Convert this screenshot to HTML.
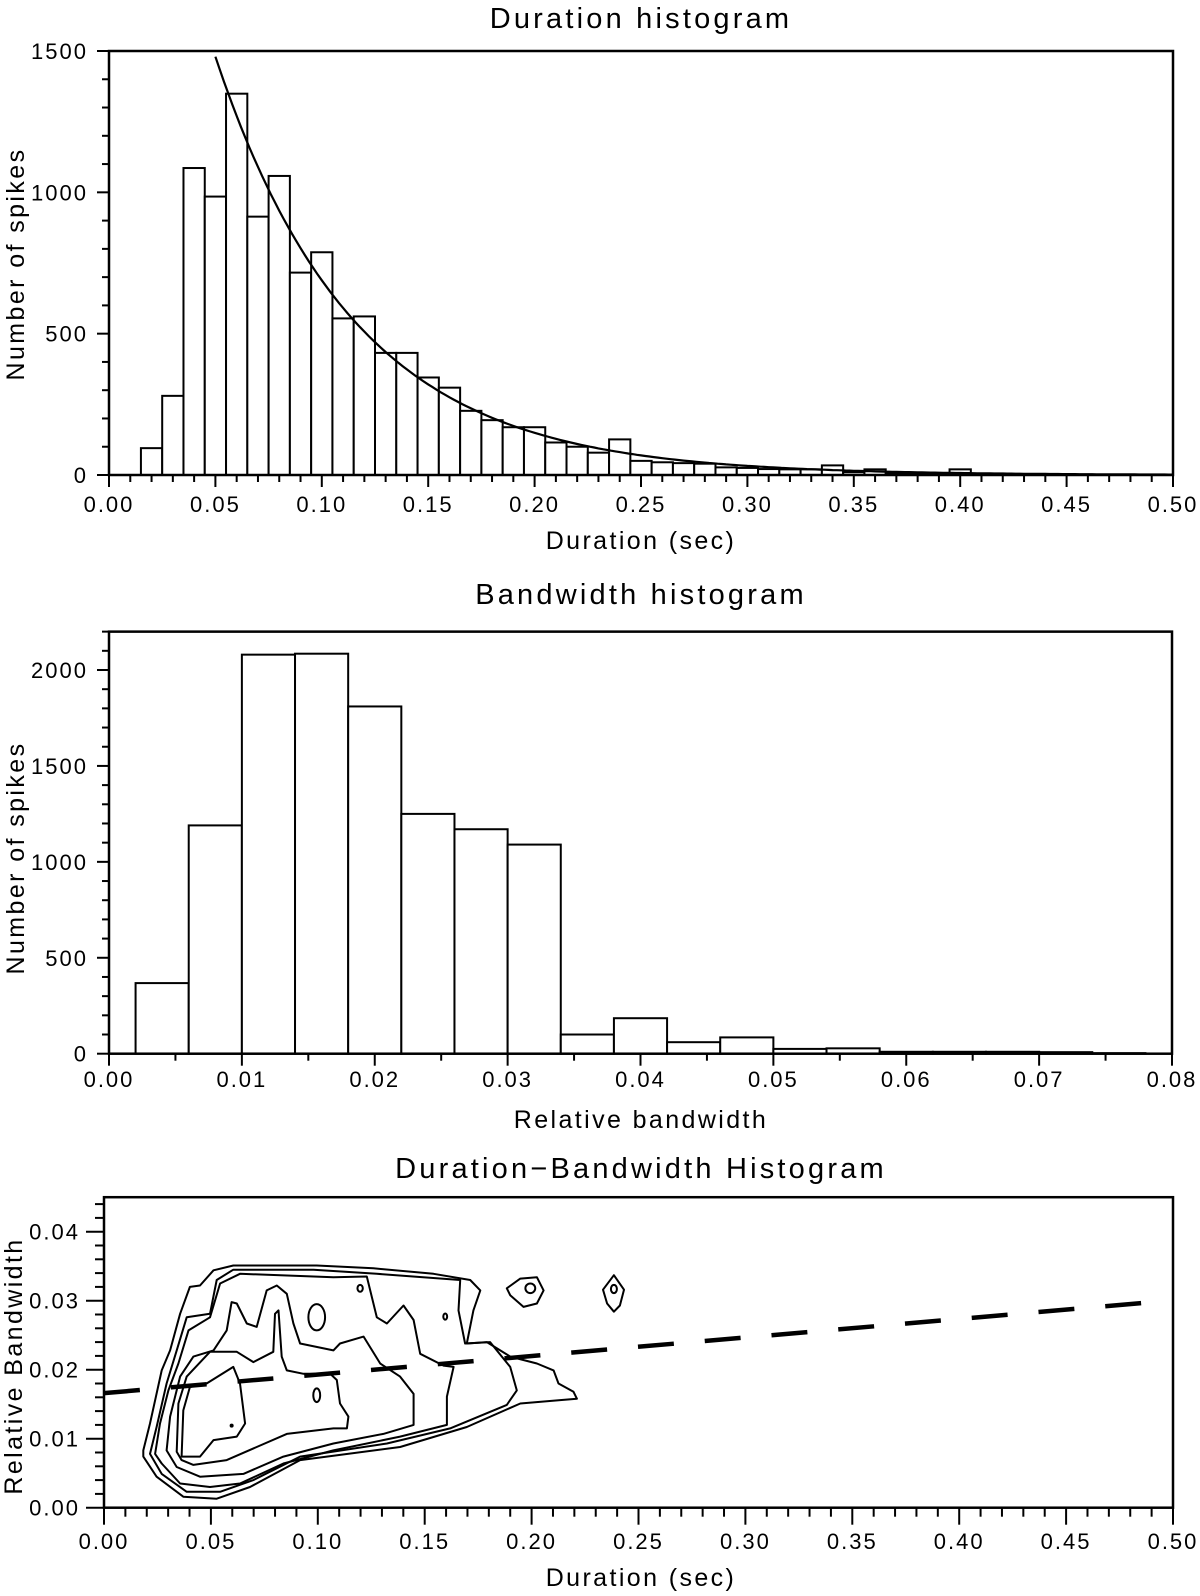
<!DOCTYPE html>
<html><head><meta charset="utf-8"><style>
html,body{margin:0;padding:0;background:#fff;}
svg{display:block;font-family:"Liberation Sans",sans-serif;}
</style></head><body>
<svg id="fig" width="1200" height="1596" viewBox="0 0 1200 1596" xmlns="http://www.w3.org/2000/svg"></svg>
<script>
// ---- Duration histogram data ----
const durBinStart = 0.015;
const durBinWidth = 0.01;
const durCounts = [95,280,1086,985,1349,914,1058,716,788,554,561,432,432,345,309,227,194,169,169,115,100,79,126,50,45,42,40,27,25,21,20,20,34,10,20,6,4,4,20,3,2,2,1,1,1,1,1,0];
const durFit = [1480, 15.3]; // value at 0.05, decay rate
const durXTicks = ["0.00","0.05","0.10","0.15","0.20","0.25","0.30","0.35","0.40","0.45","0.50"];
const durYTicks = ["0","500","1000","1500"];
// ---- Bandwidth histogram data ----
const bwBinStart = 0.002;
const bwBinWidth = 0.004;
const bwCounts = [368,1190,2080,2085,1810,1250,1170,1090,100,185,60,85,25,28,10,10,10,8,3];
const bwXTicks = ["0.00","0.01","0.02","0.03","0.04","0.05","0.06","0.07","0.08"];
const bwYTicks = ["0","500","1000","1500","2000"];
// ---- Duration-bandwidth contours ([duration, bandwidth]) ----
const contour1 = [[.0184,.0083],[.0215,.0122],[.0270,.0199],[.0309,.0228],[.0356,.0281],[.0402,.0320],[.0449,.0322],[.0512,.0344],[.0605,.0351],[.0995,.0351],[.1260,.0347],[.1541,.0339],[.1713,.0330],[.1760,.0315],[.1728,.0286],[.1697,.0238],[.1791,.0240],[.1900,.0219],[.2025,.0209],[.2103,.0199],[.2126,.0180],[.2196,.0168],[.2212,.0158],[.2134,.0156],[.1947,.0151],[.1697,.0117],[.1385,.0088],[.0917,.0069],[.0683,.0030],[.0527,.0013],[.0371,.0016],[.0246,.0045],[.0184,.0074]];
const contour2 = [[.0215,.0078],[.0246,.0117],[.0293,.0180],[.0340,.0228],[.0387,.0276],[.0496,.0281],[.0527,.0330],[.0605,.0345],[.0980,.0345],[.1276,.0339],[.1666,.0330],[.1658,.0286],[.1689,.0238],[.1806,.0240],[.1900,.0204],[.1931,.0170],[.1884,.0149],[.1619,.0115],[.1323,.0093],[.0917,.0074],[.0699,.0040],[.0543,.0023],[.0387,.0023],[.0270,.0049]];
const contour3 = [[.0239,.0078],[.0262,.0122],[.0301,.0170],[.0348,.0209],[.0395,.0257],[.0496,.0276],[.0543,.0325],[.0636,.0339],[.1073,.0334],[.1229,.0335],[.1276,.0276],[.1323,.0267],[.1401,.0293],[.1448,.0272],[.1479,.0223],[.1588,.0206],[.1635,.0204],[.1604,.0161],[.1604,.0120],[.1385,.0103],[.1073,.0083],[.0839,.0064],[.0636,.0035],[.0496,.0030],[.0356,.0035],[.0270,.0064]];
const contour4 = [[.0293,.0083],[.0309,.0132],[.0356,.0190],[.0418,.0219],[.0512,.0228],[.0574,.0257],[.0597,.0298],[.0621,.0296],[.0668,.0267],[.0714,.0262],[.0761,.0315],[.0808,.0322],[.0855,.0310],[.0886,.0267],[.0917,.0238],[.1073,.0228],[.1104,.0238],[.1214,.0248],[.1292,.0209],[.1385,.0190],[.1448,.0165],[.1448,.0120],[.1307,.0107],[.1073,.0093],[.0839,.0074],[.0652,.0049],[.0449,.0045],[.0340,.0059]];
const contour5 = [[.0340,.0081],[.0348,.0151],[.0387,.0190],[.0496,.0226],[.0621,.0226],[.0699,.0211],[.0792,.0226],[.0800,.0281],[.0816,.0286],[.0831,.0219],[.0855,.0199],[.0933,.0194],[.1058,.0194],[.1089,.0185],[.1104,.0151],[.1143,.0132],[.1136,.0115],[.1073,.0115],[.0855,.0107],[.0714,.0088],[.0574,.0069],[.0418,.0062],[.0363,.0069]];
const contour6 = [[.0363,.0074],[.0371,.0141],[.0402,.0175],[.0480,.0180],[.0605,.0204],[.0636,.0180],[.0660,.0122],[.0621,.0103],[.0512,.0098],[.0449,.0074]];
const contour7 = [[.1884,.0318],[.1947,.0332],[.2025,.0334],[.2056,.0315],[.2025,.0296],[.1962,.0291],[.1900,.0308]];
const contour8 = [[.2385,.0337],[.2432,.0316],[.2413,.0293],[.2385,.0284],[.2353,.0296],[.2334,.0316]];
// small closed loops: [duration, bandwidth, rx, ry]
const loops = [[.0995,.0276,.0039,.0019],[.0995,.0163,.0016,.0010],[.1198,.0318,.00125,.0005],[.1596,.0277,.0009,.00045],[.1994,.0318,.0023,.0007],[.2385,.0317,.0014,.0006]];
const peakDot = [.0597,.0119];
const trendLine = [[0,.0166],[.487,.0297]];
const cXTicks = ["0.00","0.05","0.10","0.15","0.20","0.25","0.30","0.35","0.40","0.45","0.50"];
const cYTicks = ["0.00","0.01","0.02","0.03","0.04"];

const NS="http://www.w3.org/2000/svg";
const svg=document.getElementById('fig');
function mk(tag,attrs,parent){const e=document.createElementNS(NS,tag);for(const k in attrs)e.setAttribute(k,attrs[k]);(parent||svg).appendChild(e);return e;}
function txt(s,x,y,size,anchor,parent,rot,ls){const t=mk('text',{x:x,y:y,'font-size':size,'text-anchor':anchor||'middle',fill:'#000','letter-spacing':ls||0},parent);if(rot)t.setAttribute('transform','rotate(-90 '+x+' '+y+')');t.textContent=s;return t;}

function lin(d0,d1,p0,p1){return v=>p0+(v-d0)/(d1-d0)*(p1-p0);}
const TS=22, TLS=2, AS=25, ALS=2.4, HS=29, HLS=3.2;

// ================= Plot 1 =================
(function(){
const g=mk('g',{});


const X=lin(0,0.5,109,1173), Y=lin(0,1500,475,51);
const t=txt('Duration histogram',641,28,HS,'middle',g,false,HLS);


durCounts.forEach((c,i)=>{
  const x0=X(durBinStart+i*durBinWidth), x1=X(durBinStart+(i+1)*durBinWidth);
  if(c<=0)return;
  const r=mk('rect',{x:x0,y:Y(c),width:x1-x0,height:Y(0)-Y(c),fill:'#fff',stroke:'#000','stroke-width':2},g);
  
  
});
let d='';
for(let v=0.05;v<=0.5001;v+=0.002){const y=durFit[0]*Math.exp(-durFit[1]*(v-0.05));d+=(d?'L':'M')+X(v).toFixed(1)+','+Y(y).toFixed(1);}
const p=mk('path',{d:d,fill:'none',stroke:'#000','stroke-width':2.2},g);


const fr=mk('rect',{x:X(0),y:Y(1500),width:X(0.5)-X(0),height:Y(0)-Y(1500),fill:'none',stroke:'#000','stroke-width':2.5},g);


for(let i=0;i<=50;i++){const x=X(i*0.01);const maj=i%5==0;mk('line',{x1:x,y1:Y(0),x2:x,y2:Y(0)+(maj?12:7),stroke:'#000','stroke-width':2},g);}
durXTicks.forEach((s,i)=>{const l=txt(s,X(i*0.05),512,TS,'middle',g,false,TLS);});
for(let i=0;i<=15;i++){const y=Y(i*100);const maj=i%5==0;mk('line',{x1:X(0),y1:y,x2:X(0)-(maj?12:7),y2:y,stroke:'#000','stroke-width':2},g);}
durYTicks.forEach((s,i)=>{const l=txt(s,88,Y(i*500)+8,TS,'end',g,false,TLS);});
const xl=txt('Duration (sec)',641,549,AS,'middle',g,false,ALS);
const yl=txt('Number of spikes',24,264,AS,'middle',g,true,ALS);
})();

// ================= Plot 2 =================
(function(){
const g=mk('g',{});


const X=lin(0,0.08,109,1172), Y=lin(0,2000,1053.7,670);
const t=txt('Bandwidth histogram',641,604,HS,'middle',g,false,HLS);


bwCounts.forEach((c,i)=>{
  const x0=X(bwBinStart+i*bwBinWidth), x1=X(bwBinStart+(i+1)*bwBinWidth);
  const r=mk('rect',{x:x0,y:Y(c),width:x1-x0,height:Y(0)-Y(c),fill:'#fff',stroke:'#000','stroke-width':2},g);
  
  
});
const fr=mk('rect',{x:X(0),y:Y(2200),width:X(0.08)-X(0),height:Y(0)-Y(2200),fill:'none',stroke:'#000','stroke-width':2.5},g);


for(let i=0;i<=16;i++){const x=X(i*0.005);const maj=i%2==0;mk('line',{x1:x,y1:Y(0),x2:x,y2:Y(0)+(maj?12:7),stroke:'#000','stroke-width':2},g);}
bwXTicks.forEach((s,i)=>{const l=txt(s,X(i*0.01),1087,TS,'middle',g,false,TLS);});
for(let i=0;i<=22;i++){const y=Y(i*100);const maj=i%5==0;mk('line',{x1:X(0),y1:y,x2:X(0)-(maj?12:7),y2:y,stroke:'#000','stroke-width':2},g);}
bwYTicks.forEach((s,i)=>{const l=txt(s,88,Y(i*500)+8,TS,'end',g,false,TLS);});
const xl=txt('Relative bandwidth',641,1128,AS,'middle',g,false,ALS);
const yl=txt('Number of spikes',24,858,AS,'middle',g,true,ALS);
})();

// ================= Plot 3 =================
(function(){
const g=mk('g',{});


const X=lin(0,0.5,104,1173), Y=lin(0,0.04,1507.7,1231.7);
const t=txt('Duration\u2212Bandwidth Histogram',641,1178,HS,'middle',g,false,HLS);


[contour1,contour2,contour3,contour4,contour5,contour6,contour7,contour8].forEach(c=>{
  const pts=c.map(p=>X(p[0]).toFixed(1)+','+Y(p[1]).toFixed(1)).join(' ');
  const pg=mk('polygon',{points:pts,fill:'none',stroke:'#000','stroke-width':2,'stroke-linejoin':'round'},g);
  
  
});
loops.forEach(l=>{
  const e=mk('ellipse',{cx:X(l[0]),cy:Y(l[1]),rx:X(l[2])-X(0),ry:Y(0)-Y(l[3]),fill:'none',stroke:'#000','stroke-width':2},g);
  
  
});
const dot=mk('circle',{cx:X(peakDot[0]),cy:Y(peakDot[1]),r:2,fill:'#000'},g);


const tl=mk('line',{x1:X(trendLine[0][0]),y1:Y(trendLine[0][1]),x2:X(trendLine[1][0]),y2:Y(trendLine[1][1]),stroke:'#000','stroke-width':4.5,'stroke-dasharray':'36 31'},g);


const fr=mk('rect',{x:X(0),y:Y(0.045),width:X(0.5)-X(0),height:Y(0)-Y(0.045),fill:'none',stroke:'#000','stroke-width':2.5},g);


for(let i=0;i<=50;i++){const x=X(i*0.01);const maj=i%5==0;mk('line',{x1:x,y1:Y(0),x2:x,y2:Y(0)+(maj?17:9),stroke:'#000','stroke-width':2},g);}
cXTicks.forEach((s,i)=>{const l=txt(s,X(i*0.05),1549,TS,'middle',g,false,TLS);});
for(let i=0;i<=22;i++){const y=Y(i*0.002);const maj=i%5==0;mk('line',{x1:X(0),y1:y,x2:X(0)-(maj?18:9),y2:y,stroke:'#000','stroke-width':2},g);}
cYTicks.forEach((s,i)=>{const l=txt(s,80,Y(i*0.01)+8,TS,'end',g,false,TLS);});
const xl=txt('Duration (sec)',641,1586,AS,'middle',g,false,ALS);
const yl=txt('Relative Bandwidth',22,1366,AS,'middle',g,true,ALS);
})();
</script>
</body></html>
